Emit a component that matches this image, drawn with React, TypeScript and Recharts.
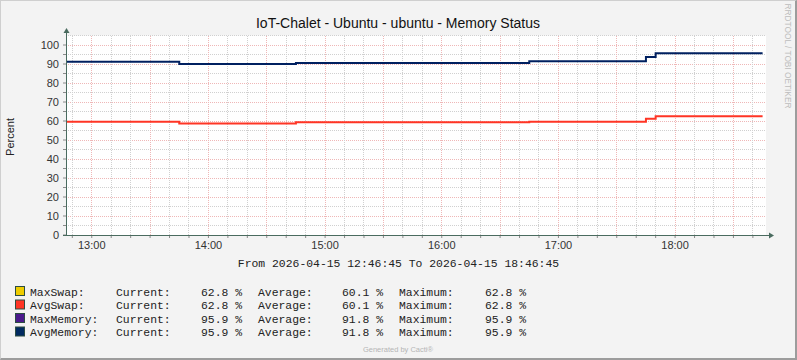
import { LineChart, Line, XAxis, YAxis, CartesianGrid, ReferenceLine } from 'recharts';

// time in minutes since midnight (2026-04-15)
const times = [766.75, 825, 885, 1005, 1065, 1070, 1125];
const avgMemory = [91.2, 90.0, 90.5, 91.4, 93.7, 95.7, 95.7];
const avgSwap = [59.6, 58.7, 59.3, 59.6, 61.2, 62.5, 62.5];

const hourTicks = [780, 840, 900, 960, 1020, 1080];
const hourLabels = ['13:00', '14:00', '15:00', '16:00', '17:00', '18:00'];
const yLabels = [0, 10, 20, 30, 40, 50, 60, 70, 80, 90, 100];

const legendNames = ['MaxSwap:', 'AvgSwap:', 'MaxMemory:', 'AvgMemory:'];
const legendColors = ['#EECC00', '#FF3525', '#4B1A8C', '#002A60'];
const legendCurrent = ['62.8', '62.8', '95.9', '95.9'];
const legendAverage = ['60.1', '60.1', '91.8', '91.8'];
const legendMaximum = ['62.8', '62.8', '95.9', '95.9'];

const data = times.map((t, i) => ({ t, mem: avgMemory[i], swap: avgSwap[i] }));

const X_MIN = 766.75;
const X_MAX = 1126.75;

// grid: every 10 min (minor), every 30 min (major); y every 5 (minor), 10 (major)
const minorX: number[] = [];
const majorX: number[] = [];
for (let m = 770; m <= 1120; m += 10) {
    if (m % 30 === 0) majorX.push(m);
    else minorX.push(m);
}
const minorY = [5, 15, 25, 35, 45, 55, 65, 75, 85, 95, 105];
const yTicks = [0, 5, 10, 15, 20, 25, 30, 35, 40, 45, 50, 55, 60, 65, 70, 75, 80, 85, 90, 95, 100];

const AXIS = '#4a6b5f';
const MINOR = '#d0d0d0';
const MAJOR = '#efb7b7';
const MONO = '"Liberation Mono", monospace';
const SANS = '"Liberation Sans", Arial, sans-serif';

function xLabel(v: number) {
    const i = hourTicks.indexOf(v);
    return i >= 0 ? hourLabels[i] : '';
}

function yLabel(v: number) {
    return yLabels.includes(v) ? String(v) : '';
}

export default function App() {
    const rowY = [291.5, 305, 318.5, 332];
    return (
        <div
            style={{
                position: 'absolute',
                left: 0,
                top: 0,
                width: 797,
                height: 360,
                background: '#f3f3f3',
                boxSizing: 'border-box',
                borderTop: '1px solid #cfcfcf',
                borderLeft: '1px solid #cfcfcf',
                borderRight: '2px solid #9c9c9c',
                borderBottom: '2px solid #9c9c9c',
                overflow: 'hidden',
            }}
        >
            <div style={{ position: 'absolute', left: -1, top: -1 }}>
                <LineChart
                    width={797}
                    height={360}
                    data={data}
                    margin={{ top: 35.5, right: 31, bottom: 95, left: 36 }}
                >
                    <CartesianGrid fill="#ffffff" horizontal={false} vertical={false} />
                    {minorY.map((v) => (
                        <ReferenceLine key={'my' + v} y={v} stroke={MINOR} strokeDasharray="1 1" shapeRendering="crispEdges" />
                    ))}
                    {yLabels.filter((v) => v > 0).map((v) => (
                        <ReferenceLine key={'My' + v} y={v} stroke={MAJOR} strokeDasharray="1 1" shapeRendering="crispEdges" />
                    ))}
                    {minorX.map((v) => (
                        <ReferenceLine key={'mx' + v} x={v} stroke={MINOR} strokeDasharray="1 1" shapeRendering="crispEdges" />
                    ))}
                    {majorX.map((v) => (
                        <ReferenceLine key={'Mx' + v} x={v} stroke={MAJOR} strokeDasharray="1 1" shapeRendering="crispEdges" />
                    ))}
                    <XAxis
                        dataKey="t"
                        type="number"
                        domain={[X_MIN, X_MAX]}
                        ticks={[...minorX, ...majorX].sort((a, b) => a - b)}
                        tickFormatter={xLabel}
                        interval={0}
                        height={30}
                        axisLine={false}
                        tickLine={{ stroke: '#8a8a8a' }}
                        tickSize={3}
                        tickMargin={3}
                        tick={{ fontSize: 11, fill: '#333', fontFamily: SANS }}
                    />
                    <YAxis
                        type="number"
                        domain={[0, 105]}
                        ticks={yTicks}
                        tickFormatter={yLabel}
                        interval={0}
                        width={30}
                        axisLine={false}
                        tickLine={{ stroke: '#8a8a8a' }}
                        tickSize={3}
                        tickMargin={4}
                        tick={{ fontSize: 11, fill: '#333', fontFamily: SANS }}
                    />
                    <Line
                        dataKey="swap"
                        type="stepAfter"
                        stroke="#FF3525"
                        strokeWidth={2}
                        dot={false}
                        isAnimationActive={false}
                    />
                    <Line
                        dataKey="mem"
                        type="stepAfter"
                        stroke="#002060"
                        strokeWidth={2}
                        dot={false}
                        isAnimationActive={false}
                    />
                </LineChart>
            </div>
            <svg
                width={797}
                height={360}
                style={{ position: 'absolute', left: -1, top: -1, pointerEvents: 'none' }}
                fontFamily={SANS}
            >
                {/* axes with arrows */}
                <line x1={66.5} y1={235} x2={66.5} y2={32} stroke={AXIS} strokeWidth={1} />
                <polygon points="63.5,33 69.5,33 66.5,28" fill={AXIS} />
                <line x1={63} y1={235.5} x2={770} y2={235.5} stroke={AXIS} strokeWidth={1} />
                <polygon points="769,232.5 769,238.5 774,235.5" fill={AXIS} />

                <text x={398} y={28} textAnchor="middle" fontSize={14} fill="#111">
                    IoT-Chalet - Ubuntu - ubuntu - Memory Status
                </text>
                <text
                    x={14}
                    y={137}
                    textAnchor="middle"
                    fontSize={11}
                    fill="#222"
                    transform="rotate(-90 14 137)"
                >
                    Percent
                </text>
                <text
                    x={56}
                    y={-785}
                    textAnchor="middle"
                    fontSize={8.3}
                    fill="#bdbdbd"
                    transform="rotate(90)"
                >
                    RRDTOOL / TOBI OETIKER
                </text>
                <text x={398.5} y={267} textAnchor="middle" fontSize={11.4} fontFamily={MONO} fill="#222">
                    From 2026-04-15 12:46:45 To 2026-04-15 18:46:45
                </text>
                {legendNames.map((name, i) => (
                    <g key={name} fontFamily={MONO} fontSize={11.4} fill="#222">
                        <rect x={15.5} y={rowY[i] - 5} width={9} height={9} fill={legendColors[i]} stroke="#2c4d43" strokeWidth={1} />
                        <text x={30} y={rowY[i] + 4}>{name}</text>
                        <text x={116} y={rowY[i] + 4}>Current:</text>
                        <text x={201} y={rowY[i] + 4}>{legendCurrent[i]} %</text>
                        <text x={258} y={rowY[i] + 4}>Average:</text>
                        <text x={342} y={rowY[i] + 4}>{legendAverage[i]} %</text>
                        <text x={399} y={rowY[i] + 4}>Maximum:</text>
                        <text x={485} y={rowY[i] + 4}>{legendMaximum[i]} %</text>
                    </g>
                ))}
                <text x={398} y={352} textAnchor="middle" fontSize={7.5} fill="#b5b5b5">
                    Generated by Cacti®
                </text>
            </svg>
        </div>
    );
}
